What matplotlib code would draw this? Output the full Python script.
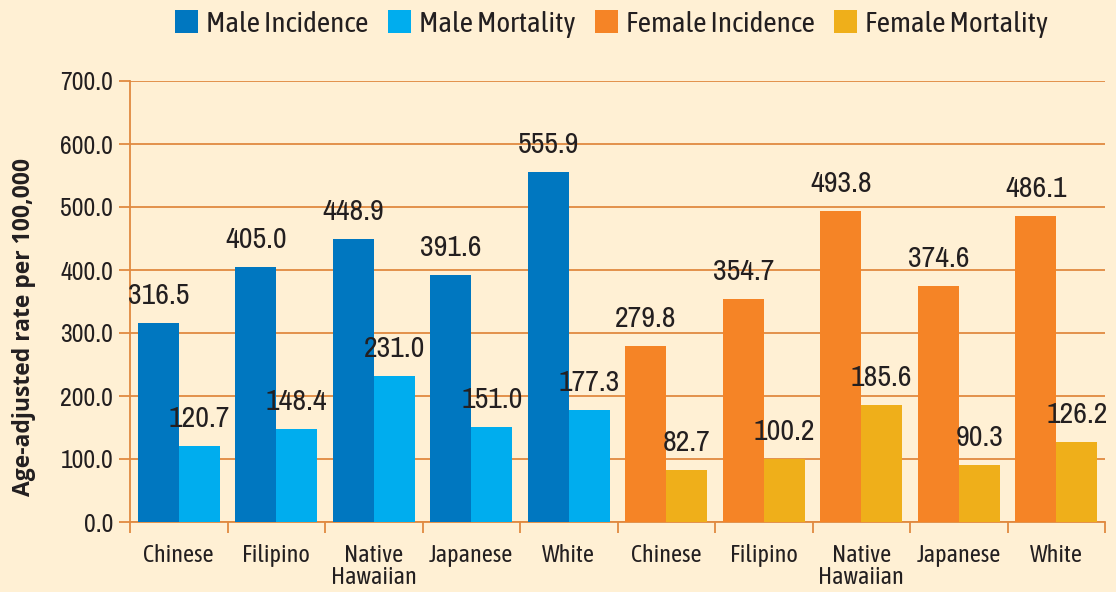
import matplotlib
matplotlib.use("Agg")
import matplotlib.pyplot as plt
from matplotlib.patches import Patch
import numpy as np

# Werte
groups = ["Chinese", "Filipino", "Native\nHawaiian", "Japanese", "White",
          "Chinese", "Filipino", "Native\nHawaiian", "Japanese", "White"]
male_incidence = [316.5, 405.0, 448.9, 391.6, 555.9]
male_mortality = [120.7, 148.4, 231.0, 151.0, 177.3]
female_incidence = [279.8, 354.7, 493.8, 374.6, 486.1]
female_mortality = [82.7, 100.2, 185.6, 90.3, 126.2]
series_names = ["Male Incidence", "Male Mortality", "Female Incidence", "Female Mortality"]

bg = "#FFF0D4"
grid_col = "#E08A40"
txt = "#231F20"
colors = ["#0077C0", "#00ADEE", "#F58426", "#EFAF1A"]

num_font = ["Archivo Narrow", "Liberation Sans Narrow", "Liberation Sans", "DejaVu Sans"]
word_font = ["Asap Condensed", "Archivo Narrow", "Liberation Sans", "DejaVu Sans"]
plt.rcParams["font.family"] = num_font

fig = plt.figure(figsize=(11.16, 5.92), dpi=100, facecolor=bg)
ax = fig.add_axes([130 / 1116, 70 / 592, 975 / 1116, 441 / 592])
ax.set_facecolor(bg)

x_male = np.arange(5)
x_fem = np.arange(5, 10)
off = 0.21
w = 0.42

def bars(xs, vals, col):
    ax.bar(xs, vals, width=w, color=col, zorder=3)
    for xi, v in zip(xs, vals):
        ax.annotate(f"{v:.1f}", (xi, v), xytext=(0, 14), textcoords="offset pixels",
                    ha="center", va="bottom", fontsize=21.5, color=txt, zorder=4)

bars(x_male - off, male_incidence, colors[0])
bars(x_male + off, male_mortality, colors[1])
bars(x_fem - off, female_incidence, colors[2])
bars(x_fem + off, female_mortality, colors[3])

ax.set_xlim(-0.5, 9.5)
ax.set_ylim(0, 700)
ax.set_yticks(np.arange(0, 701, 100))
ax.set_yticklabels([f"{v:.1f}" for v in np.arange(0, 701, 100)], fontsize=18.5, color=txt)
ax.yaxis.grid(True, color=grid_col, linewidth=1.3, zorder=0)

ax.set_xticks(np.arange(-0.5, 10, 1))
ax.set_xticklabels([])
ax.set_xticks(np.arange(10), minor=True)
ax.set_xticklabels(groups, minor=True, fontsize=17.5, color=txt, linespacing=0.95,
                   family=word_font)
ax.tick_params(axis="x", which="minor", length=0, pad=16)
ax.tick_params(axis="x", which="major", length=8, width=1.3, color=grid_col)
ax.tick_params(axis="y", length=8, width=1.3, color=grid_col, pad=4)

for s in ["top", "right"]:
    ax.spines[s].set_visible(False)
for s in ["left", "bottom"]:
    ax.spines[s].set_color(grid_col)
    ax.spines[s].set_linewidth(1.3)

fig.text(24 / 1116, 1 - 327 / 592, "Age-adjusted rate per 100,000", rotation=90,
         ha="center", va="center", fontsize=16.5, fontweight="bold", color=txt,
         family=["Open Sans", "DejaVu Sans"])

handles = [Patch(facecolor=c, label=n) for c, n in zip(colors, series_names)]
fig.legend(handles=handles, loc="center", bbox_to_anchor=(0.548, 1 - 24 / 592), ncol=4,
           frameon=False, handlelength=0.8, handleheight=0.8,
           handletextpad=0.28, columnspacing=0.65, labelcolor=txt,
           prop={"family": word_font, "size": 21})

fig.savefig("out.png", dpi=100, facecolor=bg)
